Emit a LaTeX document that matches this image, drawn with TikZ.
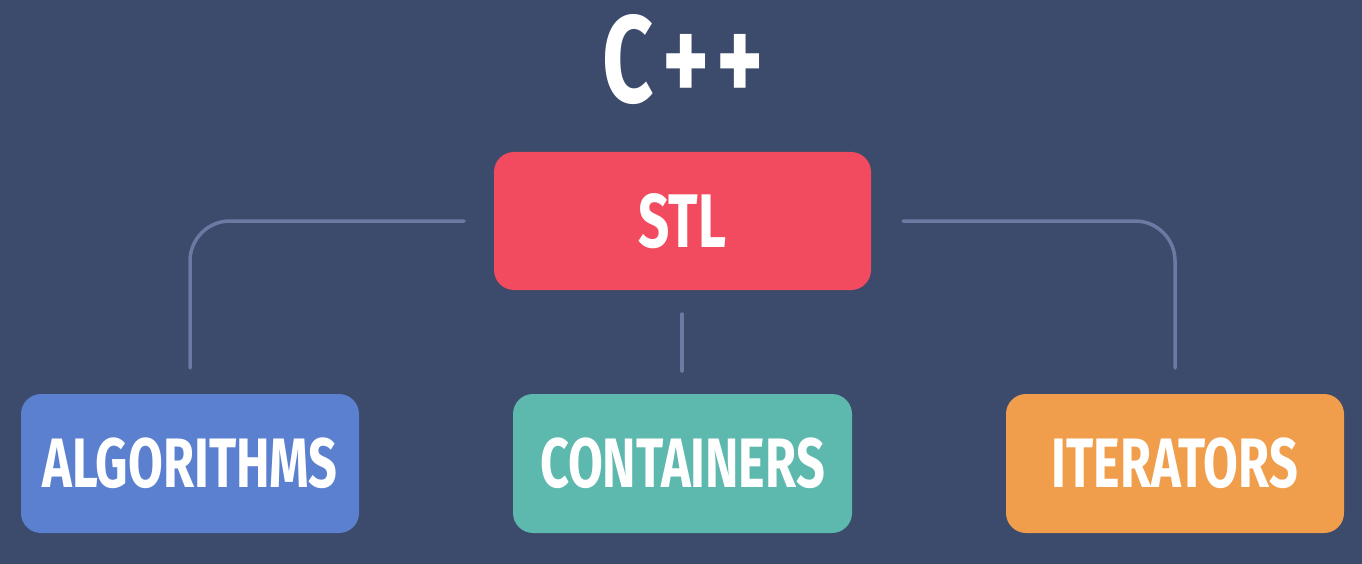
\documentclass[tikz,border=0pt]{standalone}
\usepackage{fontspec}
\setmainfont[FakeStretch=0.72]{Fira Sans}
\definecolor{bgc}{HTML}{3C4A6B}
\definecolor{linec}{HTML}{6A7AA2}
\definecolor{stlc}{HTML}{F24B5F}
\definecolor{algc}{HTML}{5B80D0}
\definecolor{conc}{HTML}{5DB8AE}
\definecolor{itc}{HTML}{F09E4B}
\tikzset{
  box/.style={rounded corners=20pt, minimum height=139pt, text=white, font=\fontsize{70}{70}\selectfont\bfseries, inner sep=0pt},
  conn/.style={draw=linec, line width=3.5pt, line cap=round, rounded corners=40pt},
}
\begin{document}
\begin{tikzpicture}[x=1pt,y=-1pt]
\fill[bgc] (0,0) rectangle (1362,564);
\useasboundingbox (0,0) rectangle (1362,564);
\node[text=white, font=\fontsize{124}{124}\selectfont\bfseries] (title) at (683,60) {C\kern9pt+\kern6pt+};
\node[box, fill=stlc, minimum width=377pt, minimum height=138pt, font=\fontsize{76}{76}\selectfont\bfseries] (stl) at (682.5,221) {STL};
\node[box, fill=algc, minimum width=338pt] (alg) at (190,463.5) {ALGORITHMS};
\node[box, fill=conc, minimum width=339pt] (con) at (682.5,463.5) {CONTAINERS};
\node[box, fill=itc, minimum width=338pt] (it) at (1175,463.5) {ITERATORS};
\coordinate (l1) at (464,221);
\coordinate (l2) at (190,368);
\coordinate (r1) at (903,221);
\coordinate (r2) at (1175,368);
\coordinate (m1) at (682,314);
\coordinate (m2) at (682,371);
\draw[conn] (l1) -| (l2);
\draw[conn] (r1) -| (r2);
\draw[conn] (m1) -- (m2);
\end{tikzpicture}
\end{document}
